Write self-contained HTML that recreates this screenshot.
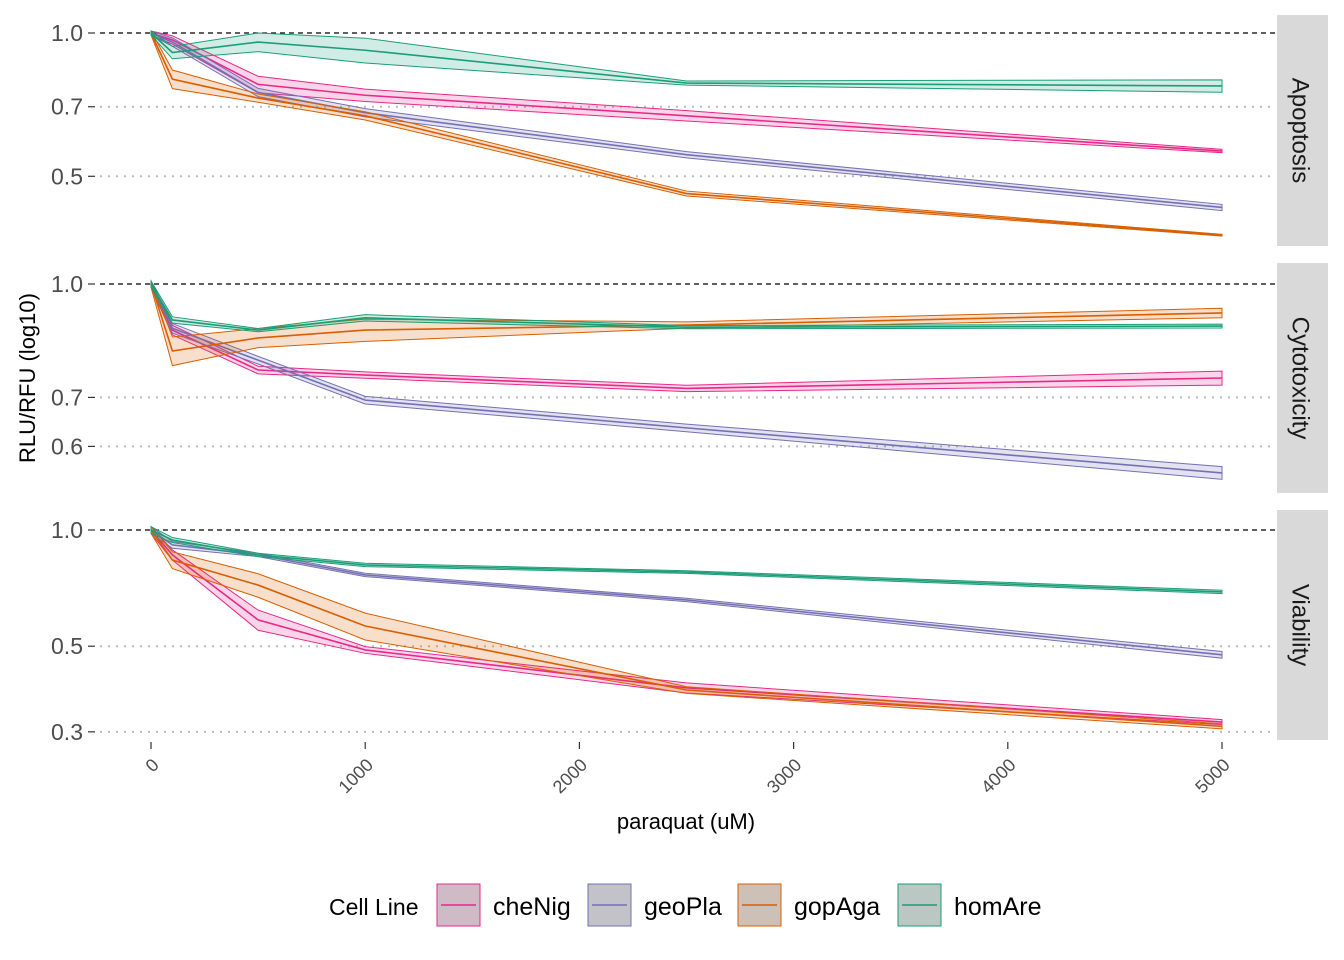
<!DOCTYPE html>
<html><head><meta charset="utf-8"><style>
body{margin:0;background:#fff;}
svg{display:block;font-family:"Liberation Sans",sans-serif;}
</style></head><body>
<svg id="chart" width="1344" height="960"></svg>
<script>
const doses=[0,100,500,1000,2500,5000];
const seriesNames=["cheNig","geoPla","gopAga","homAre"];
const colors=["#E7298A","#7570B3","#D95F02","#1B9E77"];
const panelNames=["Apoptosis","Cytotoxicity","Viability"];
// values per panel per series
const apoptosisVals=[[1,0.967,0.78,0.74,0.67,0.565],[1,0.957,0.75,0.68,0.555,0.43],[1,0.80,0.73,0.67,0.46,0.376],[1,0.91,0.957,0.92,0.785,0.774]];
const apoptosisSpread=[[0.01,0.02,0.04,0.03,0.025,0.008],[0.01,0.02,0.02,0.02,0.015,0.015],[0.01,0.045,0.02,0.02,0.012,0.004],[0.01,0.03,0.045,0.06,0.01,0.03]];
const cytoVals=[[1,0.865,0.763,0.751,0.72,0.744],[1,0.87,0.787,0.694,0.636,0.552],[1,0.81,0.844,0.865,0.879,0.913],[1,0.893,0.865,0.899,0.873,0.876]];
const cytoSpread=[[0.01,0.015,0.012,0.01,0.01,0.022],[0.01,0.015,0.012,0.012,0.012,0.02],[0.01,0.045,0.03,0.035,0.01,0.015],[0.01,0.01,0.005,0.01,0.005,0.006]];
const viaVals=[[1,0.862,0.585,0.489,0.39,0.318],[1,0.915,0.862,0.765,0.659,0.475],[1,0.836,0.72,0.564,0.385,0.31],[1,0.942,0.862,0.812,0.778,0.691]];
const viaSpread=[[0.02,0.03,0.06,0.02,0.03,0.015],[0.02,0.02,0.01,0.01,0.01,0.02],[0.02,0.05,0.07,0.08,0.02,0.015],[0.02,0.015,0.01,0.01,0.008,0.01]];
const panelVals=[apoptosisVals,cytoVals,viaVals];
const panelSpread=[apoptosisSpread,cytoSpread,viaSpread];
const panelTicks=[[1.0,0.7,0.5],[1.0,0.7,0.6],[1.0,0.5,0.3]];
const xTicks=[0,1000,2000,3000,4000,5000];

const panels=[{top:15,bot:246,y1:33,k:476},{top:263,bot:493,y1:284,k:732},{top:510,bot:740,y1:530,k:386}];
const X=v=>151+v*(1222-151)/5000;
const NS="http://www.w3.org/2000/svg";
const svg=document.getElementById('chart');
function mk(t,a,p){const e=document.createElementNS(NS,t);for(const k in a)e.setAttribute(k,a[k]);(p||svg).appendChild(e);return e;}

panels.forEach((p,pi)=>{
  const Y=v=>p.y1-p.k*Math.log10(v);
  const g=mk('g',{});
  
  
  panelTicks[pi].forEach(t=>{
    const y=Y(t);
    const gl=mk('line',{x1:100,x2:1275,y1:y,y2:y,stroke:t===1?'#000':'#bbb','stroke-width':t===1?1.2:2,'stroke-dasharray':t===1?'5,4':'2,6'},g);
    
    
    mk('line',{x1:88,x2:95,y1:y,y2:y,stroke:'#333','stroke-width':1.2},g);
    const tx=mk('text',{x:83,y:y+8,'text-anchor':'end','font-size':23,fill:'#4d4d4d'},g);
    tx.textContent=t.toFixed(1);
    
    
  });
  seriesNames.forEach((s,si)=>{
    const vals=panelVals[pi][si],sp=panelSpread[pi][si];
    const up=doses.map((d,i)=>X(d)+','+Y(vals[i]*(1+sp[i])));
    const lo=doses.map((d,i)=>X(d)+','+Y(vals[i]*(1-sp[i]))).reverse();
    const r=mk('polygon',{points:up.concat(lo).join(' '),fill:colors[si],'fill-opacity':0.2,stroke:colors[si],'stroke-width':1},g);
    
    
    const l=mk('polyline',{points:doses.map((d,i)=>X(d)+','+Y(vals[i])).join(' '),fill:'none',stroke:colors[si],'stroke-width':1.6},g);
    
    
  });
  const st=mk('rect',{x:1277,y:p.top,width:51,height:p.bot-p.top,fill:'#d9d9d9'},g);
  
  
  const cy=(p.top+p.bot)/2;
  const stx=mk('text',{x:1300,y:cy,transform:'rotate(90 1300 '+cy+')','text-anchor':'middle','dominant-baseline':'central','font-size':24,fill:'#1a1a1a'},g);
  stx.textContent=panelNames[pi];
  
  
});
xTicks.forEach(t=>{
  const x=X(t);
  mk('line',{x1:x,x2:x,y1:742,y2:749,stroke:'#333','stroke-width':1.2});
  const tx=mk('text',{x:x+9,y:766,transform:'rotate(-45 '+(x+9)+' 766)','text-anchor':'end','font-size':18,fill:'#4d4d4d'});
  tx.textContent=t;
  
  
});
</script>
<script>
(function(){
const NS="http://www.w3.org/2000/svg";const svg=document.getElementById('chart');
function mk(t,a){const e=document.createElementNS(NS,t);for(const k in a)e.setAttribute(k,a[k]);svg.appendChild(e);return e;}
let e=mk('text',{x:686,y:829,'text-anchor':'middle','font-size':22,fill:'#000'});e.textContent='paraquat (uM)';


e=mk('text',{x:35,y:378,transform:'rotate(-90 35 378)','text-anchor':'middle','font-size':22,fill:'#000'});e.textContent='RLU/RFU (log10)';


e=mk('text',{x:329,y:915,'font-size':23,fill:'#000'});e.textContent='Cell Line';


const names=["cheNig","geoPla","gopAga","homAre"],cols=["#E7298A","#7570B3","#D95F02","#1B9E77"],kx=[437,588,738,898];
names.forEach((n,i)=>{
  const r=mk('rect',{x:kx[i],y:884,width:43,height:42,fill:'#cccccc',stroke:cols[i],'stroke-width':1});
  
  
  mk('rect',{x:kx[i],y:884,width:43,height:42,fill:cols[i],'fill-opacity':0.1});
  mk('line',{x1:kx[i]+4,x2:kx[i]+39,y1:905,y2:905,stroke:cols[i],'stroke-width':1.6});
  const t=mk('text',{x:kx[i]+56,y:915,'font-size':25,fill:'#000'});t.textContent=n;
  
  
});
})();
</script>
</body></html>
